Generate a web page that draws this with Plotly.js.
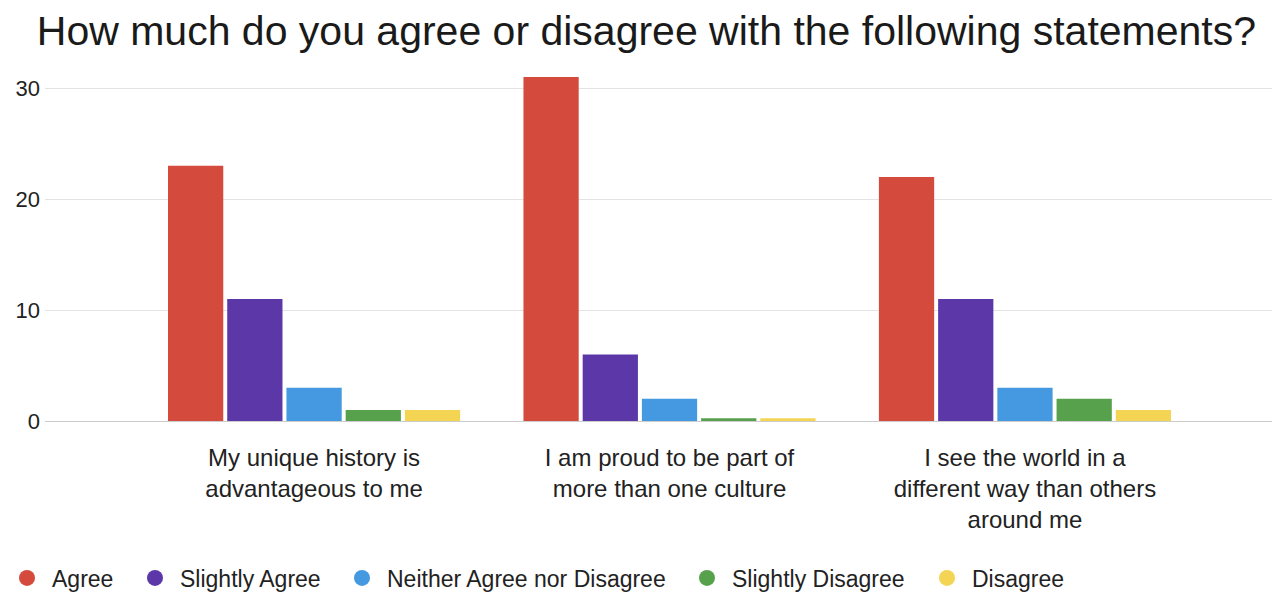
<!DOCTYPE html>
<html>
<head>
<meta charset="utf-8">
<script src="https://cdn.plot.ly/plotly-3.0.1.min.js"></script>
<style>html,body{margin:0;padding:0;background:#fff;}#chart{width:1275px;height:593px;}</style>
</head>
<body>
<div id="chart"></div>
<script>
const categories = [
  "My unique history is<br>advantageous to me",
  "I am proud to be part of<br>more than one culture",
  "I see the world in a<br>different way than others<br>around me"
];
const seriesNames = ["Agree", "Slightly Agree", "Neither Agree nor Disagree", "Slightly Disagree", "Disagree"];
const agree = [23, 31, 22];
const slightlyAgree = [11, 6, 11];
const neither = [3, 2, 3];
const slightlyDisagree = [1, 0.25, 2];
const disagree = [1, 0.25, 1];
const colors = ["#d44a3d", "#5b37a8", "#4499e0", "#57a14d", "#f3d453"];
const yTicks = [0, 10, 20, 30];

const seriesValues = [agree, slightlyAgree, neither, slightlyDisagree, disagree];
const xIdx = categories.map((c, i) => i);
const legendIds = ["legend", "legend2", "legend3", "legend4", "legend5"];
const legendLeft = [2, 130, 337, 682, 922];

const traces = [];
seriesValues.forEach((vals, i) => {
  traces.push({
    type: "bar",
    x: xIdx,
    y: vals,
    name: seriesNames[i],
    marker: {color: colors[i]},
    showlegend: false,
    hoverinfo: "y+name"
  });
});
seriesValues.forEach((vals, i) => {
  traces.push({
    type: "scatter",
    mode: "markers",
    x: [null],
    y: [null],
    name: seriesNames[i],
    legend: legendIds[i],
    marker: {color: colors[i], size: 19, symbol: "circle"},
    showlegend: true
  });
});

const layout = {
  width: 1275,
  height: 593,
  margin: {l: 45, r: 3, t: 66, b: 172},
  paper_bgcolor: "#ffffff",
  plot_bgcolor: "#ffffff",
  font: {family: "Liberation Sans, Arial, sans-serif", color: "#222222"},
  title: {
    text: "How much do you agree or disagree with the following statements?",
    font: {size: 41, color: "#1a1a1a"},
    x: 0.507, xanchor: "center",
    y: 0.948, yanchor: "middle"
  },
  barmode: "group",
  bargap: 0.167,
  bargroupgap: 0.067,
  xaxis: {
    range: [-0.757, 2.695],
    tickvals: xIdx,
    ticktext: categories,
    tickfont: {size: 24, color: "#222222"},
    showgrid: false,
    zeroline: false,
    showline: false,
    ticks: "",
    ticklabelstandoff: 20
  },
  yaxis: {
    range: [0, 32],
    tickvals: yTicks,
    tickfont: {size: 22, color: "#222222"},
    showgrid: true,
    gridcolor: "#e3e3e3",
    gridwidth: 1,
    zeroline: true,
    zerolinecolor: "#cccccc",
    zerolinewidth: 1,
    showline: false,
    ticks: "",
    ticklabelstandoff: 4
  }
};
legendIds.forEach((id, i) => {
  layout[id] = {
    orientation: "h",
    xref: "container", yref: "container",
    x: legendLeft[i] / 1275, xanchor: "left",
    y: 1 - 578 / 593, yanchor: "middle",
    font: {size: 23, color: "#222222"},
    itemwidth: 40,
    bgcolor: "rgba(0,0,0,0)"
  };
});

Plotly.newPlot("chart", traces, layout, {displayModeBar: false, staticPlot: true});
</script>
</body>
</html>
